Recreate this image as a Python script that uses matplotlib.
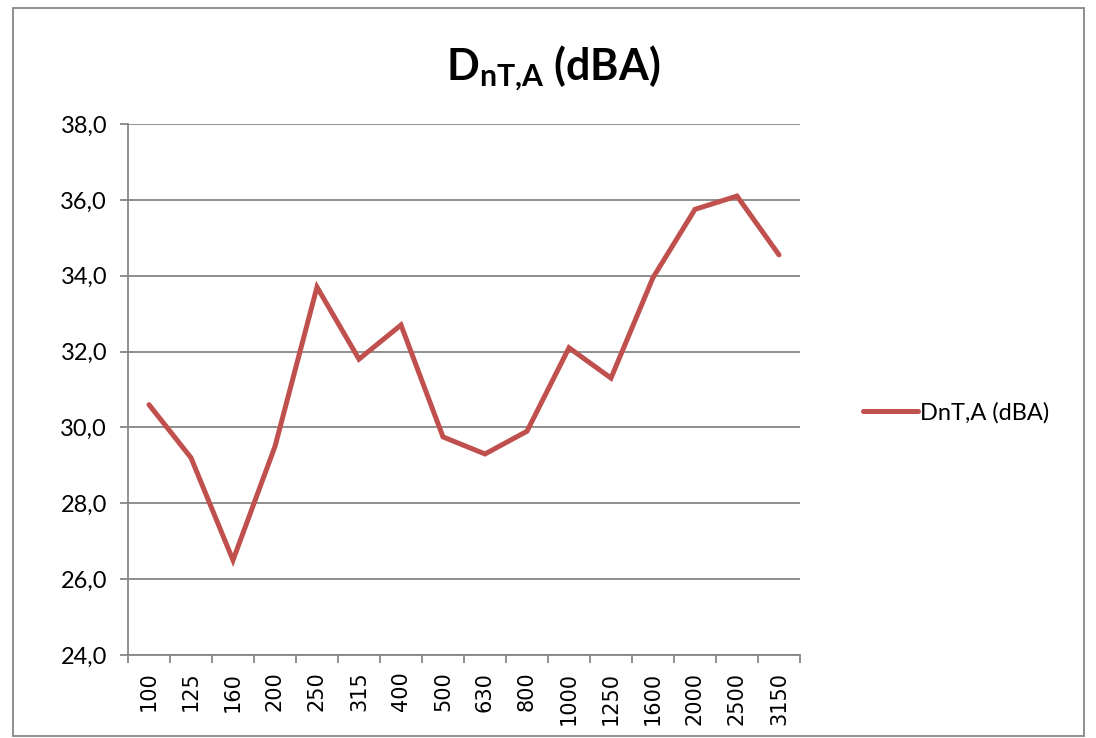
import matplotlib
matplotlib.use('Agg')
import matplotlib.pyplot as plt
from matplotlib.patches import Rectangle
import numpy as np

# third-octave band centre frequencies (Hz)
freqs = ['100', '125', '160', '200', '250', '315', '400', '500',
         '630', '800', '1000', '1250', '1600', '2000', '2500', '3150']
dnta = [30.6, 29.2, 26.5, 29.5, 33.7, 31.8, 32.7, 29.75,
        29.3, 29.9, 32.1, 31.3, 33.95, 35.75, 36.1, 34.55]
yticks = [24, 26, 28, 30, 32, 34, 36, 38]
series_name = 'DnT,A (dBA)'

line_color = '#C0504D'
grey = '#868686'

plt.rcParams['font.family'] = ['Lato', 'DejaVu Sans']
plt.rcParams['mathtext.fontset'] = 'custom'
plt.rcParams['mathtext.bf'] = 'Lato:bold'
plt.rcParams['mathtext.rm'] = 'Lato'

fig = plt.figure(figsize=(10.96, 7.38), dpi=100)
ax = fig.add_axes([128 / 1096, 1 - 655 / 738, (800 - 128) / 1096, (655 - 124) / 738])

x = np.arange(len(freqs))
ax.plot(x, dnta, color=line_color, lw=3.6, solid_joinstyle='miter',
        solid_capstyle='round', label=series_name)

ax.set_xlim(-0.5, len(freqs) - 0.5)
ax.set_ylim(24, 38)
ax.set_yticks(yticks)
ax.set_yticklabels([f'{v:.1f}'.replace('.', ',') for v in yticks], fontsize=17)
ax.yaxis.grid(True, color=grey, lw=1.3)
ax.set_axisbelow(True)

# category ticks sit on the boundaries, labels in the middle
ax.set_xticks(np.arange(len(freqs) + 1) - 0.5)
ax.set_xticklabels([])
ax.set_xticks(x, minor=True)
ax.set_xticklabels(freqs, minor=True, rotation=90, fontsize=15)
for lbl in ax.get_xticklabels(minor=True):
    lbl.set_fontfamily('DejaVu Sans')
ax.tick_params(axis='x', which='minor', length=0, pad=12)
ax.tick_params(axis='x', which='major', length=6, width=1.3, color=grey)
ax.tick_params(axis='y', length=6, width=1.3, color=grey, pad=9)

for s in ['top', 'right']:
    ax.spines[s].set_visible(False)
for s in ['left', 'bottom']:
    ax.spines[s].set_color(grey)
    ax.spines[s].set_linewidth(1.3)

fig.text(553 / 1096, 1 - 68 / 738, r'$\mathbf{D_{nT{,}A}}$ (dBA)',
         ha='center', va='center', fontsize=31, fontweight='bold')

fig.legend(loc='center left', bbox_to_anchor=(842 / 1096, 1 - 413 / 738),
           frameon=False, fontsize=17, handlelength=2.3, handletextpad=0.1)

fig.patches.append(Rectangle((13 / 1096, 2 / 738), 1071 / 1096, 728 / 738,
                             transform=fig.transFigure, fill=False,
                             edgecolor=grey, lw=1.3))

fig.savefig('out.png', dpi=100)
